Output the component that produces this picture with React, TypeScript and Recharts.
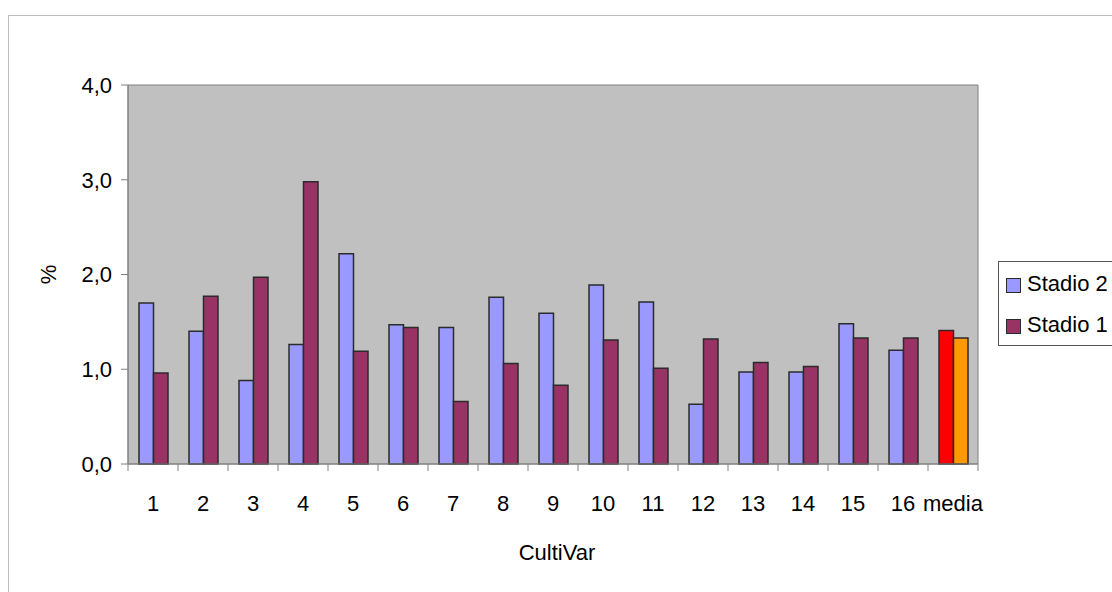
import { BarChart, Bar, XAxis, YAxis, CartesianGrid, Cell } from "recharts";

const categories = ["1", "2", "3", "4", "5", "6", "7", "8", "9", "10", "11", "12", "13", "14", "15", "16", "media"];
const stadio2 = [1.7, 1.4, 0.88, 1.26, 2.22, 1.47, 1.44, 1.76, 1.59, 1.89, 1.71, 0.63, 0.97, 0.97, 1.48, 1.2, 1.41];
const stadio1 = [0.96, 1.77, 1.97, 2.98, 1.19, 1.44, 0.66, 1.06, 0.83, 1.31, 1.01, 1.32, 1.07, 1.03, 1.33, 1.33, 1.33];
const yTicks = [0, 1, 2, 3, 4];

const data = categories.map((name, i) => ({
  name,
  stadio2: stadio2[i],
  stadio1: stadio1[i],
}));

const FONT = "'Liberation Sans', Arial, sans-serif";
const FONT_SIZE = 22;
const AXIS_GRAY = "#808080";
const BAR_EDGE = "#2b2b2b";
const COLOR_S2 = "#9999FF";
const COLOR_S1 = "#993366";
const COLOR_MEDIA_S2 = "#FF0000";
const COLOR_MEDIA_S1 = "#FF9900";

// Excel-style category tick: marks sit on the band edges, label in the middle
function CategoryTick(props: any) {
  const { x, y, payload, index } = props;
  const half = payload?.offset || 25;
  const last = index === categories.length - 1;
  return (
    <g>
      <line x1={x - half} y1={y} x2={x - half} y2={y + 7} stroke={AXIS_GRAY} />
      {last && <line x1={x + half} y1={y} x2={x + half} y2={y + 7} stroke={AXIS_GRAY} />}
      <text x={x} y={y + 47} textAnchor="middle" fontSize={FONT_SIZE} fill="#000">
        {payload.value}
      </text>
    </g>
  );
}

function LegendBox() {
  const items = [
    { label: "Stadio 2", color: COLOR_S2, top: 16 },
    { label: "Stadio 1", color: COLOR_S1, top: 57 },
  ];
  return (
    <div
      style={{
        position: "absolute",
        left: 998,
        top: 261,
        width: 140,
        height: 83,
        border: "1px solid #555",
        background: "#fff",
        fontFamily: FONT,
        fontSize: FONT_SIZE,
      }}
    >
      {items.map((it) => (
        <div key={it.label}>
          <div
            style={{
              position: "absolute",
              left: 7,
              top: it.top,
              width: 13,
              height: 13,
              background: it.color,
              border: `1px solid ${BAR_EDGE}`,
            }}
          />
          <div style={{ position: "absolute", left: 28, top: it.top - 6, lineHeight: "24px", whiteSpace: "nowrap" }}>
            {it.label}
          </div>
        </div>
      ))}
    </div>
  );
}

export default function App() {
  return (
    <div
      style={{
        position: "absolute",
        left: 0,
        top: 0,
        width: 1112,
        height: 592,
        overflow: "hidden",
        background: "#fff",
      }}
    >
      <div
        style={{
          position: "absolute",
          left: 8,
          top: 15,
          width: 1200,
          height: 700,
          borderTop: "1px solid #bdbdbd",
          borderLeft: "1px solid #bdbdbd",
        }}
      />
      <BarChart
        width={1112}
        height={592}
        data={data}
        margin={{ top: 85, right: 134, left: 28, bottom: 28 }}
        barGap={0}
        barSize={14.5}
        style={{ position: "absolute", left: 0, top: 0, fontFamily: FONT }}
      >
        <CartesianGrid
          fill="#C0C0C0"
          fillOpacity={1}
          stroke={AXIS_GRAY}
          horizontalCoordinatesGenerator={({ offset }: any) => [offset.top, offset.top + offset.height]}
          verticalCoordinatesGenerator={({ offset }: any) => [offset.left, offset.left + offset.width]}
        />
        <XAxis
          dataKey="name"
          height={100}
          interval={0}
          tickLine={false}
          tickSize={0}
          tickMargin={0}
          axisLine={{ stroke: AXIS_GRAY }}
          tick={<CategoryTick />}
          label={{
            value: "CultiVar",
            content: ({ viewBox }: any) => (
              <text
                x={viewBox.x + viewBox.width / 2 + 4}
                y={viewBox.y + 96}
                textAnchor="middle"
                fontSize={FONT_SIZE}
                fill="#000"
              >
                CultiVar
              </text>
            ),
          }}
        />
        <YAxis
          width={100}
          domain={[0, 4]}
          ticks={yTicks}
          tickSize={7}
          tickMargin={9}
          tickLine={{ stroke: AXIS_GRAY }}
          axisLine={{ stroke: AXIS_GRAY }}
          tick={{ fontSize: FONT_SIZE, fill: "#000" }}
          tickFormatter={(v: number) => v.toFixed(1).replace(".", ",")}
          label={{
            value: "%",
            content: ({ viewBox }: any) => {
              const cx = viewBox.x + 20;
              const cy = viewBox.y + viewBox.height / 2;
              return (
                <text
                  x={cx}
                  y={cy}
                  transform={`rotate(-90, ${cx}, ${cy})`}
                  textAnchor="middle"
                  dominantBaseline="central"
                  fontSize={FONT_SIZE}
                  fill="#000"
                >
                  %
                </text>
              );
            },
          }}
        />
        <Bar dataKey="stadio2" name="Stadio 2" fill={COLOR_S2} stroke={BAR_EDGE} strokeWidth={1.5} isAnimationActive={false}>
          {data.map((d) => (
            <Cell key={d.name} fill={d.name === "media" ? COLOR_MEDIA_S2 : COLOR_S2} />
          ))}
        </Bar>
        <Bar dataKey="stadio1" name="Stadio 1" fill={COLOR_S1} stroke={BAR_EDGE} strokeWidth={1.5} isAnimationActive={false}>
          {data.map((d) => (
            <Cell key={d.name} fill={d.name === "media" ? COLOR_MEDIA_S1 : COLOR_S1} />
          ))}
        </Bar>
      </BarChart>
      <LegendBox />
    </div>
  );
}
